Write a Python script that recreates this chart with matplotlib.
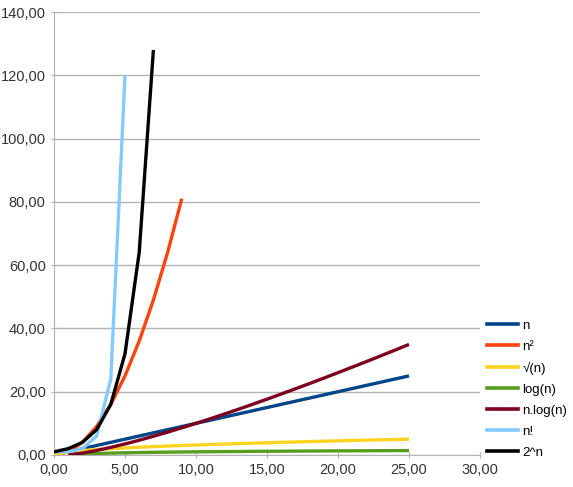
import numpy as np
import matplotlib
matplotlib.use("Agg")
import matplotlib.pyplot as plt
from matplotlib.ticker import FuncFormatter, MultipleLocator
from matplotlib.lines import Line2D

plt.rcParams['font.family'] = ['Liberation Sans', 'DejaVu Sans']

n_x = list(range(0, 26))
n_y = [float(v) for v in n_x]
sq_x = list(range(0, 10))
sq_y = [0, 1, 4, 9, 16, 25, 36, 49, 64, 81]
sqrt_x = list(range(0, 26))
sqrt_y = [0.0, 1.0, 1.41, 1.73, 2.0, 2.24, 2.45, 2.65, 2.83, 3.0, 3.16, 3.32, 3.46,
          3.61, 3.74, 3.87, 4.0, 4.12, 4.24, 4.36, 4.47, 4.58, 4.69, 4.80, 4.90, 5.0]
log_x = list(range(1, 26))
log_y = [0.0, 0.30, 0.48, 0.60, 0.70, 0.78, 0.85, 0.90, 0.95, 1.0, 1.04, 1.08, 1.11,
         1.15, 1.18, 1.20, 1.23, 1.26, 1.28, 1.30, 1.32, 1.34, 1.36, 1.38, 1.40]
nlog_x = list(range(1, 26))
nlog_y = [0.0, 0.60, 1.43, 2.41, 3.49, 4.67, 5.92, 7.22, 8.59, 10.0, 11.45, 12.95, 14.48,
          16.05, 17.64, 19.27, 20.92, 22.59, 24.29, 26.02, 27.76, 29.53, 31.32, 33.12, 34.95]
fact_x = [0, 1, 2, 3, 4, 5]
fact_y = [1, 1, 2, 6, 24, 120]
pow_x = [0, 1, 2, 3, 4, 5, 6, 7]
pow_y = [1, 2, 4, 8, 16, 32, 64, 128]

labels = ["n", "n²", "√(n)", "log(n)", "n.log(n)", "n!", "2^n"]
colors = ["#004586", "#ff420e", "#ffd320", "#579d1c", "#7e0021", "#83caff", "#000000"]
series = [(n_x, n_y), (sq_x, sq_y), (sqrt_x, sqrt_y), (log_x, log_y),
          (nlog_x, nlog_y), (fact_x, fact_y), (pow_x, pow_y)]

fig = plt.figure(figsize=(5.73, 4.87), dpi=100)
ax = fig.add_axes([54/573, 32/487, 426/573, 443/487])

for (x, y), c, l in zip(series, colors, labels):
    ax.plot(x, y, color=c, lw=2.4, label=l, solid_capstyle='butt', zorder=3)

ax.set_xlim(0, 30)
ax.set_ylim(0, 140)
ax.xaxis.set_major_locator(MultipleLocator(5))
ax.yaxis.set_major_locator(MultipleLocator(20))
fmt = FuncFormatter(lambda v, p: f"{v:.2f}".replace('.', ','))
ax.xaxis.set_major_formatter(fmt)
ax.yaxis.set_major_formatter(fmt)
ax.grid(axis='y', color='#b3b3b3', lw=1)
ax.set_axisbelow(True)
for s in ['top', 'right']:
    ax.spines[s].set_visible(False)
for s in ['left', 'bottom']:
    ax.spines[s].set_color('#b3b3b3')
ax.tick_params(colors='#b3b3b3', labelcolor='#333333', labelsize=10.5, length=5, direction='inout')

handles = [Line2D([0], [0], color=c, lw=2.6) for c in colors]
fig.legend(handles, labels, loc='upper left', bbox_to_anchor=(484/573, 1 - 317/487),
           frameon=False, fontsize=9.5, handlelength=2.4, handletextpad=0.3,
           labelspacing=0.66, borderaxespad=0, borderpad=0.2)

fig.savefig("out.png", dpi=100)
